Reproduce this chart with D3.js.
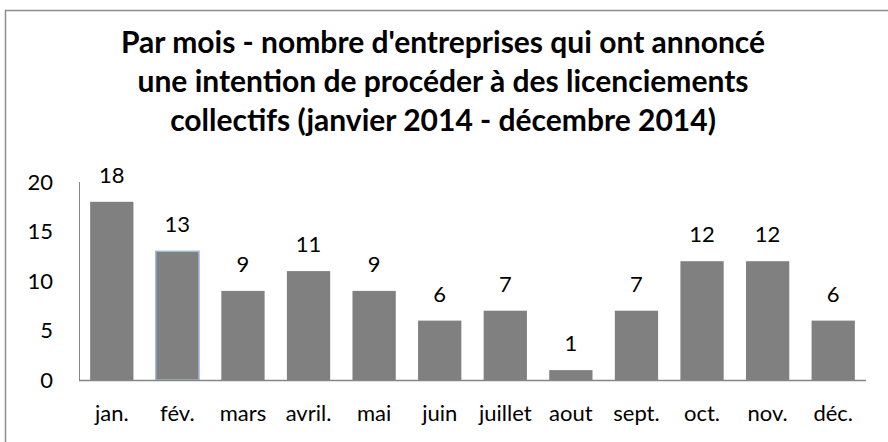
<!DOCTYPE html>
<html>
<head>
<meta charset="utf-8">
<script src="https://cdn.jsdelivr.net/npm/d3@7"></script>
<style>
  body { margin: 0; background: #fff; }
  svg { display: block; font-family: Lato, "Open Sans", sans-serif; }
</style>
</head>
<body>
<div id="chart"></div>
<script>
var months = ["jan.", "fév.", "mars", "avril.", "mai", "juin", "juillet", "aout", "sept.", "oct.", "nov.", "déc."];
var counts = [18, 13, 9, 11, 9, 6, 7, 1, 7, 12, 12, 6];
var yTicks = [0, 5, 10, 15, 20];
var titleLines = [
  "Par mois - nombre d'entreprises qui ont annoncé",
  "une intention de procéder à des licenciements",
  "collectifs (janvier 2014 - décembre 2014)"
];

var w = 888, h = 442;
var svg = d3.select("#chart").append("svg")
  .attr("width", w).attr("height", h);

// chart frame
svg.append("rect")
  .attr("x", 5.5).attr("y", 10.5)
  .attr("width", 900).attr("height", 460)
  .attr("fill", "none").attr("stroke", "#8c8c8c").attr("stroke-width", 1.5);

// title
svg.append("g").selectAll("text")
  .data(titleLines)
  .enter().append("text")
  .attr("x", 443)
  .attr("y", function(d, i) { return 53 + i * 39; })
  .attr("text-anchor", "middle")
  .attr("font-weight", "bold")
  .attr("font-size", 30)
  .attr("fill", "#000")
  .text(function(d) { return d; });

var x = d3.scaleBand().domain(months).range([79, 866]).paddingInner(0.34).paddingOuter(0.17);
var y = d3.scaleLinear().domain([0, 20]).range([380, 182]);

// y labels (no axis ticks)
svg.append("g").selectAll("text")
  .data(yTicks)
  .enter().append("text")
  .attr("x", 53)
  .attr("y", function(d) { return y(d); })
  .attr("dy", "0.35em")
  .attr("text-anchor", "end")
  .attr("font-size", 22)
  .text(function(d) { return d; });

// bars
svg.append("g").selectAll("rect")
  .data(counts)
  .enter().append("rect")
  .attr("x", function(d, i) { return x(months[i]); })
  .attr("y", function(d) { return y(d); })
  .attr("width", x.bandwidth())
  .attr("height", function(d) { return y(0) - y(d); })
  .attr("fill", "#808080")
  .attr("stroke", function(d, i) { return i == 1 ? "#9db8e2" : "none"; })
  .attr("stroke-width", 1.5);

// value labels
svg.append("g").selectAll("text")
  .data(counts)
  .enter().append("text")
  .attr("x", function(d, i) { return x(months[i]) + x.bandwidth() / 2; })
  .attr("y", function(d) { return y(d) - 19; })
  .attr("text-anchor", "middle")
  .attr("font-size", 22)
  .text(function(d) { return d; });

// axis lines
svg.append("line")
  .attr("x1", 79.5).attr("x2", 79.5).attr("y1", 182).attr("y2", 380)
  .attr("stroke", "#868686").attr("stroke-width", 1);
svg.append("line")
  .attr("x1", 79).attr("x2", 866).attr("y1", 380.5).attr("y2", 380.5)
  .attr("stroke", "#868686").attr("stroke-width", 1.5);

// month labels
svg.append("g").selectAll("text")
  .data(months)
  .enter().append("text")
  .attr("x", function(d) { return x(d) + x.bandwidth() / 2; })
  .attr("y", 421)
  .attr("text-anchor", "middle")
  .attr("font-size", 22)
  .text(function(d) { return d; });
</script>
</body>
</html>
